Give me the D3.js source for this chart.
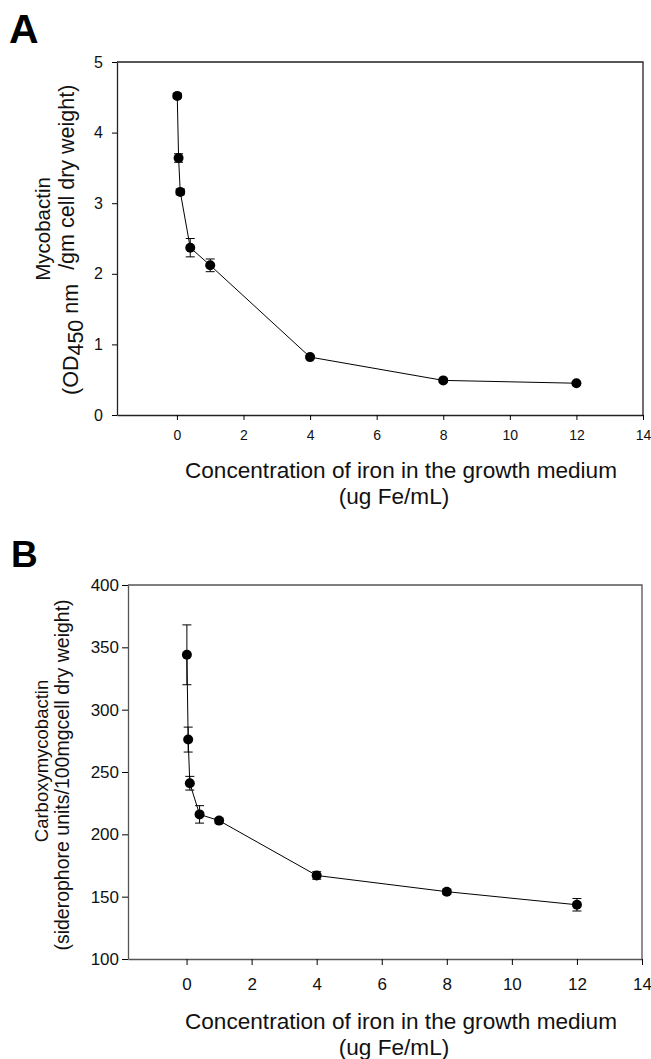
<!DOCTYPE html>
<html lang="en">
<head>
<meta charset="utf-8">
<title>Mycobactin and carboxymycobactin vs iron</title>
<script src="https://cdnjs.cloudflare.com/ajax/libs/d3/7.8.5/d3.min.js"></script>
<style>
  body { margin: 0; background: #fff; }
  svg { display: block; font-family: "Liberation Sans", Arial, sans-serif; }
</style>
</head>
<body>
<script>
// iron concentration (ug Fe/mL)
const ironConc = [0.01, 0.05, 0.1, 0.4, 1, 4, 8, 12];
// panel A: mycobactin (OD450 nm / gm cell dry weight)
const mycobactin = [4.52, 3.64, 3.16, 2.37, 2.12, 0.82, 0.49, 0.45];
const mycobactinErr = [0.03, 0.06, 0.04, 0.13, 0.09, 0.02, 0.02, 0.02];
// panel B: carboxymycobactin (siderophore units / 100mg cell dry weight)
const carboxy = [344, 276, 241, 216, 211, 167, 154, 143.5];
const carboxyErr = [24, 10, 5.5, 7, 2, 3, 2, 5];

const xTicks = [0, 2, 4, 6, 8, 10, 12, 14];
const yTicksA = [0, 1, 2, 3, 4, 5];
const yTicksB = [100, 150, 200, 250, 300, 350, 400];

const W = 651, H = 1059;
const svg = d3.select("body").append("svg").attr("width", W).attr("height", H);

function panel(opt) {
  const x = d3.scaleLinear().domain([-1.8, 14]).range([opt.left, opt.right]);
  const y = d3.scaleLinear().domain(opt.yDomain).range([opt.bottom, opt.top]);
  const g = svg.append("g");

  // frame (top + right)
  g.append("path")
    .attr("d", `M${opt.left},${opt.top}H${opt.right}V${opt.bottom}`)
    .attr("fill", "none").attr("stroke", opt.frame).attr("stroke-width", 1.3);

  const xa = g.append("g").attr("transform", `translate(0,${opt.bottom})`)
    .call(d3.axisBottom(x).tickValues(xTicks).tickFormat(d3.format("d"))
      .tickSize(opt.xTick).tickPadding(opt.xPad).tickSizeOuter(0));
  xa.attr("font-family", null);
  xa.select(".domain").attr("stroke", opt.frame).attr("stroke-width", 1.3);
  xa.selectAll("text").style("font-size", opt.xFont + "px").attr("fill", "#111");

  const ya = g.append("g").attr("transform", `translate(${opt.left},0)`)
    .call(d3.axisLeft(y).tickValues(opt.yTicks).tickFormat(d3.format("d"))
      .tickSize(opt.yTick).tickPadding(opt.yPad).tickSizeOuter(0));
  ya.attr("font-family", null);
  ya.select(".domain").attr("stroke", opt.frame).attr("stroke-width", 1.3);
  ya.selectAll("text").style("font-size", opt.yFont + "px").attr("fill", "#111");

  const pts = ironConc.map((c, i) => ({ x: c, y: opt.values[i], e: opt.errors[i] }));

  g.append("path").datum(pts)
    .attr("d", d3.line().x(d => x(d.x)).y(d => y(d.y)))
    .attr("fill", "none").attr("stroke", "#000").attr("stroke-width", 1);

  const eb = g.selectAll(".err").data(pts).join("g").attr("class", "err")
    .attr("stroke", "#000").attr("stroke-width", 1);
  eb.append("line")
    .attr("x1", d => x(d.x)).attr("x2", d => x(d.x))
    .attr("y1", d => y(d.y - d.e)).attr("y2", d => y(d.y + d.e));
  eb.append("line")
    .attr("x1", d => x(d.x) - 4.5).attr("x2", d => x(d.x) + 4.5)
    .attr("y1", d => y(d.y + d.e)).attr("y2", d => y(d.y + d.e));
  eb.append("line")
    .attr("x1", d => x(d.x) - 4.5).attr("x2", d => x(d.x) + 4.5)
    .attr("y1", d => y(d.y - d.e)).attr("y2", d => y(d.y - d.e));

  g.selectAll(".dot").data(pts).join("circle").attr("class", "dot")
    .attr("cx", d => x(d.x)).attr("cy", d => y(d.y)).attr("r", 5).attr("fill", "#000");

  // x title
  const xt = g.append("text").attr("text-anchor", "middle").attr("font-size", 22.6).attr("fill", "#111");
  xt.append("tspan").attr("x", 401).attr("y", opt.xTitleY).text("Concentration of iron in the growth medium");
  xt.append("tspan").attr("x", 394).attr("y", opt.xTitleY + 26).text("(ug Fe/mL)");

  // panel letter
  g.append("text").attr("x", opt.letterX).attr("y", opt.letterY)
    .attr("font-size", opt.letterSize).attr("font-weight", "bold").attr("fill", "#000").text(opt.letter);

  return { g, y };
}

const a = panel({
  left: 117, right: 643, top: 62, bottom: 415, yDomain: [0, 5], yTicks: yTicksA,
  values: mycobactin, errors: mycobactinErr, frame: "#222",
  xTick: 5, xPad: 10, xFont: 14, yTick: 5, yPad: 9, yFont: 16,
  xTitleY: 478, letter: "A", letterX: 9, letterY: 43, letterSize: 41
});
// y title A
a.g.append("text").attr("transform", "rotate(-90)").attr("text-anchor", "middle")
  .attr("font-size", 20.5).attr("fill", "#111").attr("x", -229).attr("y", 50).text("Mycobactin");
const l2 = a.g.append("text").attr("transform", "rotate(-90)").attr("text-anchor", "start")
  .attr("font-size", 21.5).attr("fill", "#111").attr("x", -395).attr("y", 78);
l2.append("tspan").text("(OD");
l2.append("tspan").attr("dy", 5).text("450");
l2.append("tspan").attr("dy", -5).text(" nm");
l2.append("tspan").attr("dy", -4).attr("dx", 14).text("/gm cell dry weight)");

const b = panel({
  left: 128, right: 642, top: 585, bottom: 959, yDomain: [100, 400], yTicks: yTicksB,
  values: carboxy, errors: carboxyErr, frame: "#555",
  xTick: 6, xPad: 13, xFont: 17, yTick: 6, yPad: 3, yFont: 17,
  xTitleY: 1029, letter: "B", letterX: 11, letterY: 567, letterSize: 37
});
b.g.append("text").attr("transform", "rotate(-90)").attr("text-anchor", "middle")
  .attr("font-size", 18.5).attr("fill", "#111").attr("x", -761).attr("y", 48).text("Carboxymycobactin");
b.g.append("text").attr("transform", "rotate(-90)").attr("text-anchor", "middle")
  .attr("font-size", 19.5).attr("fill", "#111").attr("x", -775).attr("y", 69)
  .text("(siderophore units/100mgcell dry weight)");
</script>
</body>
</html>
